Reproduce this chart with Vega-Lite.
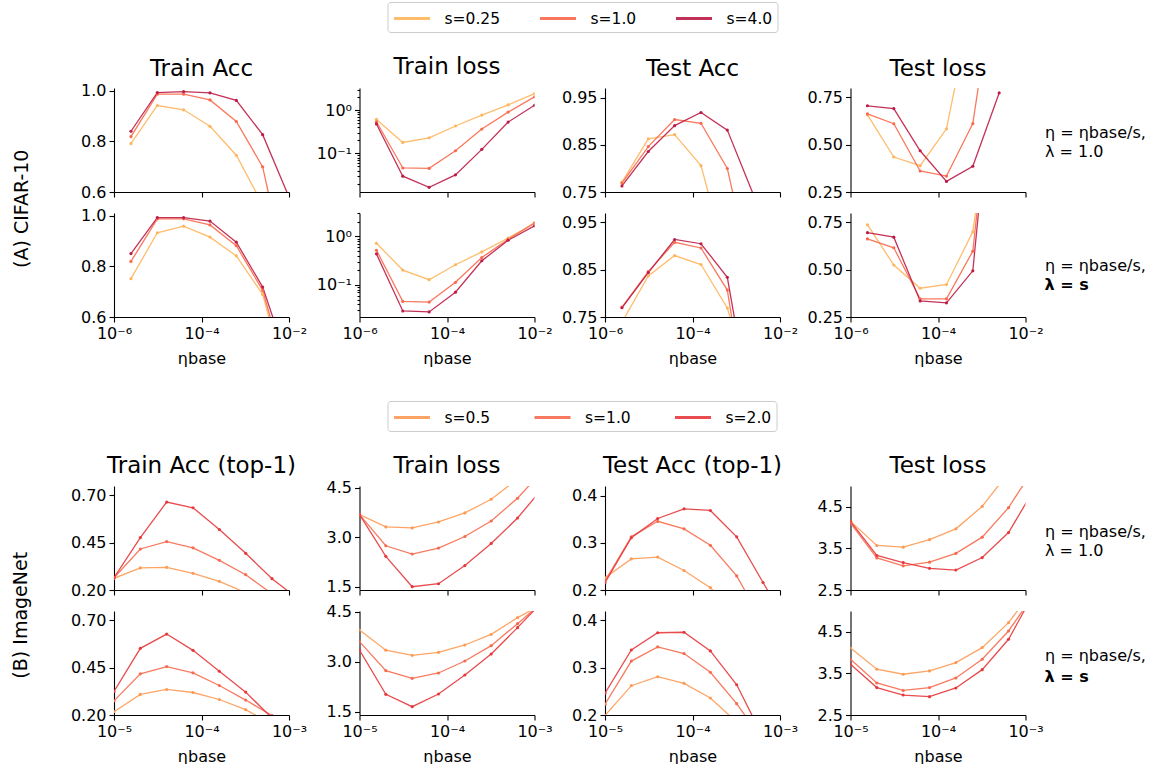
{
"$schema":"https://vega.github.io/schema/vega-lite/v6.json",
"padding":{"left":12,"top":1,"right":0,"bottom":0},
"config":{"font":"DejaVu Sans","view":{"stroke":null},
"axis":{"grid":false,"domainColor":"#000","tickColor":"#000","labelColor":"#000","labelFontSize":16,"labelFont":"DejaVu Sans","tickSize":5,"labelPadding":3,"domainWidth":1.1,"tickWidth":1.1,"titleFontSize":16,"titleFontWeight":"normal","titleColor":"#000","titleFont":"DejaVu Sans","labelFlush":false,"titlePadding":9},
"title":{"fontSize":23,"fontWeight":"normal","font":"DejaVu Sans","color":"#000","offset":7,"baseline":"alphabetic","frame":"group"}},
"datasets":{"d":[
{"p":"a1ta","s":"s=0.25","e":2.441e-6,"v":0.791},{"p":"a1ta","s":"s=0.25","e":9.766e-6,"v":0.941},{"p":"a1ta","s":"s=0.25","e":3.906e-5,"v":0.924},{"p":"a1ta","s":"s=0.25","e":1.5625e-4,"v":0.859},{"p":"a1ta","s":"s=0.25","e":6.25e-4,"v":0.745},{"p":"a1ta","s":"s=0.25","e":0.0025,"v":0.55},{"p":"a1ta","s":"s=0.25","e":0.01,"v":0.1},
{"p":"a1ta","s":"s=1.0","e":2.441e-6,"v":0.8185},{"p":"a1ta","s":"s=1.0","e":9.766e-6,"v":0.9856},{"p":"a1ta","s":"s=1.0","e":3.906e-5,"v":0.9856},{"p":"a1ta","s":"s=1.0","e":1.5625e-4,"v":0.963},{"p":"a1ta","s":"s=1.0","e":6.25e-4,"v":0.878},{"p":"a1ta","s":"s=1.0","e":0.0025,"v":0.699},{"p":"a1ta","s":"s=1.0","e":0.01,"v":0.23},
{"p":"a1ta","s":"s=4.0","e":2.441e-6,"v":0.8395},{"p":"a1ta","s":"s=4.0","e":9.766e-6,"v":0.992},{"p":"a1ta","s":"s=4.0","e":3.906e-5,"v":0.996},{"p":"a1ta","s":"s=4.0","e":1.5625e-4,"v":0.991},{"p":"a1ta","s":"s=4.0","e":6.25e-4,"v":0.961},{"p":"a1ta","s":"s=4.0","e":0.0025,"v":0.826},{"p":"a1ta","s":"s=4.0","e":0.01,"v":0.58},

{"p":"a1tl","s":"s=0.25","e":2.441e-6,"v":0.61},{"p":"a1tl","s":"s=0.25","e":9.766e-6,"v":0.179},{"p":"a1tl","s":"s=0.25","e":3.906e-5,"v":0.229},{"p":"a1tl","s":"s=0.25","e":1.5625e-4,"v":0.43},{"p":"a1tl","s":"s=0.25","e":6.25e-4,"v":0.77},{"p":"a1tl","s":"s=0.25","e":0.0025,"v":1.32},{"p":"a1tl","s":"s=0.25","e":0.01,"v":2.41},
{"p":"a1tl","s":"s=1.0","e":2.441e-6,"v":0.54},{"p":"a1tl","s":"s=1.0","e":9.766e-6,"v":0.046},{"p":"a1tl","s":"s=1.0","e":3.906e-5,"v":0.045},{"p":"a1tl","s":"s=1.0","e":1.5625e-4,"v":0.115},{"p":"a1tl","s":"s=1.0","e":6.25e-4,"v":0.367},{"p":"a1tl","s":"s=1.0","e":0.0025,"v":0.9},{"p":"a1tl","s":"s=1.0","e":0.01,"v":2.02},
{"p":"a1tl","s":"s=4.0","e":2.441e-6,"v":0.48},{"p":"a1tl","s":"s=4.0","e":9.766e-6,"v":0.0297},{"p":"a1tl","s":"s=4.0","e":3.906e-5,"v":0.0164},{"p":"a1tl","s":"s=4.0","e":1.5625e-4,"v":0.0319},{"p":"a1tl","s":"s=4.0","e":6.25e-4,"v":0.124},{"p":"a1tl","s":"s=4.0","e":0.0025,"v":0.53},{"p":"a1tl","s":"s=4.0","e":0.01,"v":1.30},

{"p":"a1va","s":"s=0.25","e":2.441e-6,"v":0.771},{"p":"a1va","s":"s=0.25","e":9.766e-6,"v":0.863},{"p":"a1va","s":"s=0.25","e":3.906e-5,"v":0.872},{"p":"a1va","s":"s=0.25","e":1.5625e-4,"v":0.806},{"p":"a1va","s":"s=0.25","e":6.25e-4,"v":0.6},
{"p":"a1va","s":"s=1.0","e":2.441e-6,"v":0.769},{"p":"a1va","s":"s=1.0","e":9.766e-6,"v":0.8465},{"p":"a1va","s":"s=1.0","e":3.906e-5,"v":0.904},{"p":"a1va","s":"s=1.0","e":1.5625e-4,"v":0.896},{"p":"a1va","s":"s=1.0","e":6.25e-4,"v":0.80},{"p":"a1va","s":"s=1.0","e":0.0025,"v":0.55},
{"p":"a1va","s":"s=4.0","e":2.441e-6,"v":0.763},{"p":"a1va","s":"s=4.0","e":9.766e-6,"v":0.836},{"p":"a1va","s":"s=4.0","e":3.906e-5,"v":0.891},{"p":"a1va","s":"s=4.0","e":1.5625e-4,"v":0.919},{"p":"a1va","s":"s=4.0","e":6.25e-4,"v":0.8815},{"p":"a1va","s":"s=4.0","e":0.0025,"v":0.743},

{"p":"a1vl","s":"s=0.25","e":2.441e-6,"v":0.658},{"p":"a1vl","s":"s=0.25","e":9.766e-6,"v":0.435},{"p":"a1vl","s":"s=0.25","e":3.906e-5,"v":0.389},{"p":"a1vl","s":"s=0.25","e":1.5625e-4,"v":0.584},{"p":"a1vl","s":"s=0.25","e":6.25e-4,"v":1.27},
{"p":"a1vl","s":"s=1.0","e":2.441e-6,"v":0.663},{"p":"a1vl","s":"s=1.0","e":9.766e-6,"v":0.611},{"p":"a1vl","s":"s=1.0","e":3.906e-5,"v":0.361},{"p":"a1vl","s":"s=1.0","e":1.5625e-4,"v":0.334},{"p":"a1vl","s":"s=1.0","e":6.25e-4,"v":0.612},{"p":"a1vl","s":"s=1.0","e":0.0025,"v":1.54},
{"p":"a1vl","s":"s=4.0","e":2.441e-6,"v":0.706},{"p":"a1vl","s":"s=4.0","e":9.766e-6,"v":0.691},{"p":"a1vl","s":"s=4.0","e":3.906e-5,"v":0.468},{"p":"a1vl","s":"s=4.0","e":1.5625e-4,"v":0.306},{"p":"a1vl","s":"s=4.0","e":6.25e-4,"v":0.386},{"p":"a1vl","s":"s=4.0","e":0.0025,"v":0.774},

{"p":"a2ta","s":"s=0.25","e":2.441e-6,"v":0.751},{"p":"a2ta","s":"s=0.25","e":9.766e-6,"v":0.932},{"p":"a2ta","s":"s=0.25","e":3.906e-5,"v":0.958},{"p":"a2ta","s":"s=0.25","e":1.5625e-4,"v":0.915},{"p":"a2ta","s":"s=0.25","e":6.25e-4,"v":0.841},{"p":"a2ta","s":"s=0.25","e":0.0025,"v":0.689},{"p":"a2ta","s":"s=0.25","e":0.01,"v":0.313},
{"p":"a2ta","s":"s=1.0","e":2.441e-6,"v":0.819},{"p":"a2ta","s":"s=1.0","e":9.766e-6,"v":0.987},{"p":"a2ta","s":"s=1.0","e":3.906e-5,"v":0.987},{"p":"a2ta","s":"s=1.0","e":1.5625e-4,"v":0.963},{"p":"a2ta","s":"s=1.0","e":6.25e-4,"v":0.881},{"p":"a2ta","s":"s=1.0","e":0.0025,"v":0.705},{"p":"a2ta","s":"s=1.0","e":0.01,"v":0.34},
{"p":"a2ta","s":"s=4.0","e":2.441e-6,"v":0.850},{"p":"a2ta","s":"s=4.0","e":9.766e-6,"v":0.992},{"p":"a2ta","s":"s=4.0","e":3.906e-5,"v":0.992},{"p":"a2ta","s":"s=4.0","e":1.5625e-4,"v":0.978},{"p":"a2ta","s":"s=4.0","e":6.25e-4,"v":0.895},{"p":"a2ta","s":"s=4.0","e":0.0025,"v":0.718},{"p":"a2ta","s":"s=4.0","e":0.01,"v":0.41},

{"p":"a2tl","s":"s=0.25","e":2.441e-6,"v":0.72},{"p":"a2tl","s":"s=0.25","e":9.766e-6,"v":0.202},{"p":"a2tl","s":"s=0.25","e":3.906e-5,"v":0.128},{"p":"a2tl","s":"s=0.25","e":1.5625e-4,"v":0.26},{"p":"a2tl","s":"s=0.25","e":6.25e-4,"v":0.479},{"p":"a2tl","s":"s=0.25","e":0.0025,"v":0.925},{"p":"a2tl","s":"s=0.25","e":0.01,"v":1.84},
{"p":"a2tl","s":"s=1.0","e":2.441e-6,"v":0.518},{"p":"a2tl","s":"s=1.0","e":9.766e-6,"v":0.0457},{"p":"a2tl","s":"s=1.0","e":3.906e-5,"v":0.0443},{"p":"a2tl","s":"s=1.0","e":1.5625e-4,"v":0.113},{"p":"a2tl","s":"s=1.0","e":6.25e-4,"v":0.367},{"p":"a2tl","s":"s=1.0","e":0.0025,"v":0.868},{"p":"a2tl","s":"s=1.0","e":0.01,"v":1.9},
{"p":"a2tl","s":"s=4.0","e":2.441e-6,"v":0.436},{"p":"a2tl","s":"s=4.0","e":9.766e-6,"v":0.029},{"p":"a2tl","s":"s=4.0","e":3.906e-5,"v":0.0277},{"p":"a2tl","s":"s=4.0","e":1.5625e-4,"v":0.0708},{"p":"a2tl","s":"s=4.0","e":6.25e-4,"v":0.314},{"p":"a2tl","s":"s=4.0","e":0.0025,"v":0.83},{"p":"a2tl","s":"s=4.0","e":0.01,"v":1.65},

{"p":"a2va","s":"s=0.25","e":2.441e-6,"v":0.739},{"p":"a2va","s":"s=0.25","e":9.766e-6,"v":0.837},{"p":"a2va","s":"s=0.25","e":3.906e-5,"v":0.880},{"p":"a2va","s":"s=0.25","e":1.5625e-4,"v":0.861},{"p":"a2va","s":"s=0.25","e":6.25e-4,"v":0.769},{"p":"a2va","s":"s=0.25","e":0.0025,"v":0.583},
{"p":"a2va","s":"s=1.0","e":2.441e-6,"v":0.771},{"p":"a2va","s":"s=1.0","e":9.766e-6,"v":0.846},{"p":"a2va","s":"s=1.0","e":3.906e-5,"v":0.908},{"p":"a2va","s":"s=1.0","e":1.5625e-4,"v":0.896},{"p":"a2va","s":"s=1.0","e":6.25e-4,"v":0.807},{"p":"a2va","s":"s=1.0","e":0.0025,"v":0.46},
{"p":"a2va","s":"s=4.0","e":2.441e-6,"v":0.7695},{"p":"a2va","s":"s=4.0","e":9.766e-6,"v":0.844},{"p":"a2va","s":"s=4.0","e":3.906e-5,"v":0.914},{"p":"a2va","s":"s=4.0","e":1.5625e-4,"v":0.905},{"p":"a2va","s":"s=4.0","e":6.25e-4,"v":0.834},{"p":"a2va","s":"s=4.0","e":0.0025,"v":0.517},

{"p":"a2vl","s":"s=0.25","e":2.441e-6,"v":0.738},{"p":"a2vl","s":"s=0.25","e":9.766e-6,"v":0.525},{"p":"a2vl","s":"s=0.25","e":3.906e-5,"v":0.402},{"p":"a2vl","s":"s=0.25","e":1.5625e-4,"v":0.422},{"p":"a2vl","s":"s=0.25","e":6.25e-4,"v":0.70},{"p":"a2vl","s":"s=0.25","e":0.0025,"v":1.69},
{"p":"a2vl","s":"s=1.0","e":2.441e-6,"v":0.663},{"p":"a2vl","s":"s=1.0","e":9.766e-6,"v":0.616},{"p":"a2vl","s":"s=1.0","e":3.906e-5,"v":0.346},{"p":"a2vl","s":"s=1.0","e":1.5625e-4,"v":0.346},{"p":"a2vl","s":"s=1.0","e":6.25e-4,"v":0.598},{"p":"a2vl","s":"s=1.0","e":0.0025,"v":1.9},
{"p":"a2vl","s":"s=4.0","e":2.441e-6,"v":0.696},{"p":"a2vl","s":"s=4.0","e":9.766e-6,"v":0.672},{"p":"a2vl","s":"s=4.0","e":3.906e-5,"v":0.335},{"p":"a2vl","s":"s=4.0","e":1.5625e-4,"v":0.325},{"p":"a2vl","s":"s=4.0","e":6.25e-4,"v":0.494},{"p":"a2vl","s":"s=4.0","e":0.0025,"v":1.93},

{"p":"b1ta","s":"s=0.5","e":1e-5,"v":0.262},{"p":"b1ta","s":"s=0.5","e":2e-5,"v":0.317},{"p":"b1ta","s":"s=0.5","e":4e-5,"v":0.32},{"p":"b1ta","s":"s=0.5","e":8e-5,"v":0.288},{"p":"b1ta","s":"s=0.5","e":1.6e-4,"v":0.246},{"p":"b1ta","s":"s=0.5","e":3.2e-4,"v":0.186},
{"p":"b1ta","s":"s=1.0","e":1e-5,"v":0.265},{"p":"b1ta","s":"s=1.0","e":2e-5,"v":0.417},{"p":"b1ta","s":"s=1.0","e":4e-5,"v":0.456},{"p":"b1ta","s":"s=1.0","e":8e-5,"v":0.423},{"p":"b1ta","s":"s=1.0","e":1.6e-4,"v":0.357},{"p":"b1ta","s":"s=1.0","e":3.2e-4,"v":0.281},{"p":"b1ta","s":"s=1.0","e":6.4e-4,"v":0.18},
{"p":"b1ta","s":"s=2.0","e":1e-5,"v":0.265},{"p":"b1ta","s":"s=2.0","e":2e-5,"v":0.477},{"p":"b1ta","s":"s=2.0","e":4e-5,"v":0.665},{"p":"b1ta","s":"s=2.0","e":8e-5,"v":0.635},{"p":"b1ta","s":"s=2.0","e":1.6e-4,"v":0.52},{"p":"b1ta","s":"s=2.0","e":3.2e-4,"v":0.394},{"p":"b1ta","s":"s=2.0","e":6.4e-4,"v":0.26},{"p":"b1ta","s":"s=2.0","e":1.28e-3,"v":0.152},

{"p":"b1tl","s":"s=0.5","e":1e-5,"v":3.685},{"p":"b1tl","s":"s=0.5","e":2e-5,"v":3.31},{"p":"b1tl","s":"s=0.5","e":4e-5,"v":3.28},{"p":"b1tl","s":"s=0.5","e":8e-5,"v":3.46},{"p":"b1tl","s":"s=0.5","e":1.6e-4,"v":3.735},{"p":"b1tl","s":"s=0.5","e":3.2e-4,"v":4.15},{"p":"b1tl","s":"s=0.5","e":6.4e-4,"v":4.76},
{"p":"b1tl","s":"s=1.0","e":1e-5,"v":3.685},{"p":"b1tl","s":"s=1.0","e":2e-5,"v":2.74},{"p":"b1tl","s":"s=1.0","e":4e-5,"v":2.49},{"p":"b1tl","s":"s=1.0","e":8e-5,"v":2.67},{"p":"b1tl","s":"s=1.0","e":1.6e-4,"v":3.02},{"p":"b1tl","s":"s=1.0","e":3.2e-4,"v":3.49},{"p":"b1tl","s":"s=1.0","e":6.4e-4,"v":4.18},{"p":"b1tl","s":"s=1.0","e":1.28e-3,"v":5.05},
{"p":"b1tl","s":"s=2.0","e":1e-5,"v":3.685},{"p":"b1tl","s":"s=2.0","e":2e-5,"v":2.42},{"p":"b1tl","s":"s=2.0","e":4e-5,"v":1.50},{"p":"b1tl","s":"s=2.0","e":8e-5,"v":1.59},{"p":"b1tl","s":"s=2.0","e":1.6e-4,"v":2.14},{"p":"b1tl","s":"s=2.0","e":3.2e-4,"v":2.81},{"p":"b1tl","s":"s=2.0","e":6.4e-4,"v":3.58},{"p":"b1tl","s":"s=2.0","e":1.28e-3,"v":4.53},

{"p":"b1va","s":"s=0.5","e":1e-5,"v":0.226},{"p":"b1va","s":"s=0.5","e":2e-5,"v":0.266},{"p":"b1va","s":"s=0.5","e":4e-5,"v":0.270},{"p":"b1va","s":"s=0.5","e":8e-5,"v":0.2415},{"p":"b1va","s":"s=0.5","e":1.6e-4,"v":0.205},{"p":"b1va","s":"s=0.5","e":3.2e-4,"v":0.15},
{"p":"b1va","s":"s=1.0","e":1e-5,"v":0.219},{"p":"b1va","s":"s=1.0","e":2e-5,"v":0.313},{"p":"b1va","s":"s=1.0","e":4e-5,"v":0.346},{"p":"b1va","s":"s=1.0","e":8e-5,"v":0.330},{"p":"b1va","s":"s=1.0","e":1.6e-4,"v":0.295},{"p":"b1va","s":"s=1.0","e":3.2e-4,"v":0.230},{"p":"b1va","s":"s=1.0","e":6.4e-4,"v":0.13},
{"p":"b1va","s":"s=2.0","e":1e-5,"v":0.2155},{"p":"b1va","s":"s=2.0","e":2e-5,"v":0.311},{"p":"b1va","s":"s=2.0","e":4e-5,"v":0.352},{"p":"b1va","s":"s=2.0","e":8e-5,"v":0.3725},{"p":"b1va","s":"s=2.0","e":1.6e-4,"v":0.369},{"p":"b1va","s":"s=2.0","e":3.2e-4,"v":0.313},{"p":"b1va","s":"s=2.0","e":6.4e-4,"v":0.216},{"p":"b1va","s":"s=2.0","e":1.28e-3,"v":0.12},

{"p":"b1vl","s":"s=0.5","e":1e-5,"v":4.15},{"p":"b1vl","s":"s=0.5","e":2e-5,"v":3.57},{"p":"b1vl","s":"s=0.5","e":4e-5,"v":3.53},{"p":"b1vl","s":"s=0.5","e":8e-5,"v":3.71},{"p":"b1vl","s":"s=0.5","e":1.6e-4,"v":3.97},{"p":"b1vl","s":"s=0.5","e":3.2e-4,"v":4.51},{"p":"b1vl","s":"s=0.5","e":6.4e-4,"v":5.32},
{"p":"b1vl","s":"s=1.0","e":1e-5,"v":4.11},{"p":"b1vl","s":"s=1.0","e":2e-5,"v":3.27},{"p":"b1vl","s":"s=1.0","e":4e-5,"v":3.08},{"p":"b1vl","s":"s=1.0","e":8e-5,"v":3.17},{"p":"b1vl","s":"s=1.0","e":1.6e-4,"v":3.38},{"p":"b1vl","s":"s=1.0","e":3.2e-4,"v":3.77},{"p":"b1vl","s":"s=1.0","e":6.4e-4,"v":4.48},{"p":"b1vl","s":"s=1.0","e":1.28e-3,"v":5.46},
{"p":"b1vl","s":"s=2.0","e":1e-5,"v":4.15},{"p":"b1vl","s":"s=2.0","e":2e-5,"v":3.33},{"p":"b1vl","s":"s=2.0","e":4e-5,"v":3.16},{"p":"b1vl","s":"s=2.0","e":8e-5,"v":3.02},{"p":"b1vl","s":"s=2.0","e":1.6e-4,"v":2.98},{"p":"b1vl","s":"s=2.0","e":3.2e-4,"v":3.28},{"p":"b1vl","s":"s=2.0","e":6.4e-4,"v":3.88},{"p":"b1vl","s":"s=2.0","e":1.28e-3,"v":4.95},

{"p":"b2ta","s":"s=0.5","e":1e-5,"v":0.2175},{"p":"b2ta","s":"s=0.5","e":2e-5,"v":0.309},{"p":"b2ta","s":"s=0.5","e":4e-5,"v":0.335},{"p":"b2ta","s":"s=0.5","e":8e-5,"v":0.319},{"p":"b2ta","s":"s=0.5","e":1.6e-4,"v":0.282},{"p":"b2ta","s":"s=0.5","e":3.2e-4,"v":0.228},{"p":"b2ta","s":"s=0.5","e":6.4e-4,"v":0.151},
{"p":"b2ta","s":"s=1.0","e":1e-5,"v":0.275},{"p":"b2ta","s":"s=1.0","e":2e-5,"v":0.4175},{"p":"b2ta","s":"s=1.0","e":4e-5,"v":0.456},{"p":"b2ta","s":"s=1.0","e":8e-5,"v":0.423},{"p":"b2ta","s":"s=1.0","e":1.6e-4,"v":0.356},{"p":"b2ta","s":"s=1.0","e":3.2e-4,"v":0.279},{"p":"b2ta","s":"s=1.0","e":6.4e-4,"v":0.197},
{"p":"b2ta","s":"s=2.0","e":1e-5,"v":0.3245},{"p":"b2ta","s":"s=2.0","e":2e-5,"v":0.5525},{"p":"b2ta","s":"s=2.0","e":4e-5,"v":0.628},{"p":"b2ta","s":"s=2.0","e":8e-5,"v":0.542},{"p":"b2ta","s":"s=2.0","e":1.6e-4,"v":0.4315},{"p":"b2ta","s":"s=2.0","e":3.2e-4,"v":0.321},{"p":"b2ta","s":"s=2.0","e":6.4e-4,"v":0.184},

{"p":"b2tl","s":"s=0.5","e":1e-5,"v":3.95},{"p":"b2tl","s":"s=0.5","e":2e-5,"v":3.345},{"p":"b2tl","s":"s=0.5","e":4e-5,"v":3.19},{"p":"b2tl","s":"s=0.5","e":8e-5,"v":3.28},{"p":"b2tl","s":"s=0.5","e":1.6e-4,"v":3.50},{"p":"b2tl","s":"s=0.5","e":3.2e-4,"v":3.82},{"p":"b2tl","s":"s=0.5","e":6.4e-4,"v":4.32},{"p":"b2tl","s":"s=0.5","e":1.28e-3,"v":4.75},
{"p":"b2tl","s":"s=1.0","e":1e-5,"v":3.60},{"p":"b2tl","s":"s=1.0","e":2e-5,"v":2.73},{"p":"b2tl","s":"s=1.0","e":4e-5,"v":2.50},{"p":"b2tl","s":"s=1.0","e":8e-5,"v":2.66},{"p":"b2tl","s":"s=1.0","e":1.6e-4,"v":3.02},{"p":"b2tl","s":"s=1.0","e":3.2e-4,"v":3.48},{"p":"b2tl","s":"s=1.0","e":6.4e-4,"v":4.14},{"p":"b2tl","s":"s=1.0","e":1.28e-3,"v":4.82},
{"p":"b2tl","s":"s=2.0","e":1e-5,"v":3.345},{"p":"b2tl","s":"s=2.0","e":2e-5,"v":2.02},{"p":"b2tl","s":"s=2.0","e":4e-5,"v":1.65},{"p":"b2tl","s":"s=2.0","e":8e-5,"v":2.03},{"p":"b2tl","s":"s=2.0","e":1.6e-4,"v":2.60},{"p":"b2tl","s":"s=2.0","e":3.2e-4,"v":3.23},{"p":"b2tl","s":"s=2.0","e":6.4e-4,"v":4.02},{"p":"b2tl","s":"s=2.0","e":1.28e-3,"v":4.85},

{"p":"b2va","s":"s=0.5","e":1e-5,"v":0.199},{"p":"b2va","s":"s=0.5","e":2e-5,"v":0.262},{"p":"b2va","s":"s=0.5","e":4e-5,"v":0.281},{"p":"b2va","s":"s=0.5","e":8e-5,"v":0.267},{"p":"b2va","s":"s=0.5","e":1.6e-4,"v":0.236},{"p":"b2va","s":"s=0.5","e":3.2e-4,"v":0.185},
{"p":"b2va","s":"s=1.0","e":1e-5,"v":0.223},{"p":"b2va","s":"s=1.0","e":2e-5,"v":0.314},{"p":"b2va","s":"s=1.0","e":4e-5,"v":0.344},{"p":"b2va","s":"s=1.0","e":8e-5,"v":0.330},{"p":"b2va","s":"s=1.0","e":1.6e-4,"v":0.2905},{"p":"b2va","s":"s=1.0","e":3.2e-4,"v":0.224},{"p":"b2va","s":"s=1.0","e":6.4e-4,"v":0.145},
{"p":"b2va","s":"s=2.0","e":1e-5,"v":0.246},{"p":"b2va","s":"s=2.0","e":2e-5,"v":0.3375},{"p":"b2va","s":"s=2.0","e":4e-5,"v":0.374},{"p":"b2va","s":"s=2.0","e":8e-5,"v":0.375},{"p":"b2va","s":"s=2.0","e":1.6e-4,"v":0.3355},{"p":"b2va","s":"s=2.0","e":3.2e-4,"v":0.264},{"p":"b2va","s":"s=2.0","e":6.4e-4,"v":0.153},

{"p":"b2vl","s":"s=0.5","e":1e-5,"v":4.11},{"p":"b2vl","s":"s=0.5","e":2e-5,"v":3.60},{"p":"b2vl","s":"s=0.5","e":4e-5,"v":3.48},{"p":"b2vl","s":"s=0.5","e":8e-5,"v":3.56},{"p":"b2vl","s":"s=0.5","e":1.6e-4,"v":3.76},{"p":"b2vl","s":"s=0.5","e":3.2e-4,"v":4.12},{"p":"b2vl","s":"s=0.5","e":6.4e-4,"v":4.72},{"p":"b2vl","s":"s=0.5","e":1.28e-3,"v":5.56},
{"p":"b2vl","s":"s=1.0","e":1e-5,"v":3.84},{"p":"b2vl","s":"s=1.0","e":2e-5,"v":3.27},{"p":"b2vl","s":"s=1.0","e":4e-5,"v":3.09},{"p":"b2vl","s":"s=1.0","e":8e-5,"v":3.16},{"p":"b2vl","s":"s=1.0","e":1.6e-4,"v":3.39},{"p":"b2vl","s":"s=1.0","e":3.2e-4,"v":3.84},{"p":"b2vl","s":"s=1.0","e":6.4e-4,"v":4.52},{"p":"b2vl","s":"s=1.0","e":1.28e-3,"v":5.43},
{"p":"b2vl","s":"s=2.0","e":1e-5,"v":3.72},{"p":"b2vl","s":"s=2.0","e":2e-5,"v":3.16},{"p":"b2vl","s":"s=2.0","e":4e-5,"v":2.98},{"p":"b2vl","s":"s=2.0","e":8e-5,"v":2.94},{"p":"b2vl","s":"s=2.0","e":1.6e-4,"v":3.15},{"p":"b2vl","s":"s=2.0","e":3.2e-4,"v":3.59},{"p":"b2vl","s":"s=2.0","e":6.4e-4,"v":4.32},{"p":"b2vl","s":"s=2.0","e":1.28e-3,"v":5.47}
]},
"data":{"name":"d"},
"spacing":34,
"resolve":{"scale":{"color":"independent"},"legend":{"color":"independent"}},
"vconcat":[
{"title":{"text":"(A) CIFAR-10","orient":"left","anchor":"middle","fontSize":19,"fontWeight":"normal","offset":30,"baseline":"bottom","frame":"bounds","dx":-25},
 "spacing":5,
 "vconcat":[
 {"spacing":70.5,"bounds":"flush",
  "hconcat":[
  {"width":175,"height":104,"title":{"text":"Train Acc","offset":1.5},"transform":[{"filter":"datum.p=='a1ta'"}],
   "mark":{"type":"line","clip":true,"strokeWidth":1.3,"opacity":0.9,"point":{"filled":true,"size":10,"clip":true}},
   "encoding":{"x":{"field":"e","type":"quantitative","scale":{"type":"log","domain":[1e-6,1e-2],"nice":false},"axis":{"values":[1e-6,1e-4,1e-2],"labels":false,"title":null}},
    "y":{"field":"v","type":"quantitative","scale":{"domain":[0.6,1.01],"nice":false,"zero":false},"axis":{"values":[0.6,0.8,1.0],"format":".1f","title":null}},
    "color":{"field":"s","type":"nominal","scale":{"domain":["s=0.25","s=1.0","s=4.0"],"range":["#feb55c","#f96a4b","#bc1c46"]},"legend":{"title":null,"orient":"none","legendX":273.5,"legendY":-86,"direction":"horizontal","columns":3,"symbolType":"M-1,0H2.6","symbolStrokeWidth":3,"symbolSize":400,"labelFontSize":15.5,"labelFont":"DejaVu Sans","labelColor":"#000","strokeColor":"#cccccc","padding":5,"cornerRadius":3,"columnPadding":33,"labelOffset":29}}}},
  {"width":175,"height":104,"title":{"text":"Train loss","offset":3},"transform":[{"filter":"datum.p=='a1tl'"}],
   "mark":{"type":"line","clip":true,"strokeWidth":1.3,"opacity":0.9,"point":{"filled":true,"size":10,"clip":true}},
   "encoding":{"x":{"field":"e","type":"quantitative","scale":{"type":"log","domain":[1e-6,1e-2],"nice":false},"axis":{"values":[1e-6,1e-4,1e-2],"labels":false,"title":null}},
    "y":{"field":"v","type":"quantitative","scale":{"type":"log","domain":[0.0128,3.25],"nice":false},"axis":{"values":[0.02,0.03,0.04,0.05,0.06,0.07,0.08,0.09,0.1,0.2,0.3,0.4,0.5,0.6,0.7,0.8,0.9,1,2,3],"labelExpr":"datum.value==1?'10⁰':datum.value==0.1?'10⁻¹':''","tickSize":{"condition":{"test":"datum.value==1||datum.value==0.1","value":5},"value":2.5},"labelOverlap":false,"title":null}},
    "color":{"field":"s","type":"nominal","scale":{"domain":["s=0.25","s=1.0","s=4.0"],"range":["#feb55c","#f96a4b","#bc1c46"]}}}},
  {"width":175,"height":104,"title":{"text":"Test Acc","offset":7},"transform":[{"filter":"datum.p=='a1va'"}],
   "mark":{"type":"line","clip":true,"strokeWidth":1.3,"opacity":0.9,"point":{"filled":true,"size":10,"clip":true}},
   "encoding":{"x":{"field":"e","type":"quantitative","scale":{"type":"log","domain":[1e-6,1e-2],"nice":false},"axis":{"values":[1e-6,1e-4,1e-2],"labels":false,"title":null}},
    "y":{"field":"v","type":"quantitative","scale":{"domain":[0.75,0.971],"nice":false,"zero":false},"axis":{"values":[0.75,0.85,0.95],"format":".2f","title":null}},
    "color":{"field":"s","type":"nominal","scale":{"domain":["s=0.25","s=1.0","s=4.0"],"range":["#feb55c","#f96a4b","#bc1c46"]}}}},
  {"width":175,"height":104,"title":{"text":"Test loss","offset":7},"transform":[{"filter":"datum.p=='a1vl'"}],
   "mark":{"type":"line","clip":true,"strokeWidth":1.3,"opacity":0.9,"point":{"filled":true,"size":10,"clip":true}},
   "encoding":{"x":{"field":"e","type":"quantitative","scale":{"type":"log","domain":[1e-6,1e-2],"nice":false},"axis":{"values":[1e-6,1e-4,1e-2],"labels":false,"title":null}},
    "y":{"field":"v","type":"quantitative","scale":{"domain":[0.25,0.80],"nice":false,"zero":false},"axis":{"values":[0.25,0.5,0.75],"format":".2f","title":["η = ηbase/s,","λ = 1.0"],"titleX":194,"titleY":44.5,"titleAngle":0,"titleAlign":"left","titleBaseline":"middle","titleLineHeight":19}},
    "color":{"field":"s","type":"nominal","scale":{"domain":["s=0.25","s=1.0","s=4.0"],"range":["#feb55c","#f96a4b","#bc1c46"]}}}}
  ]},
 {"spacing":70.5,"bounds":"flush",
  "hconcat":[
  {"width":175,"height":104,"transform":[{"filter":"datum.p=='a2ta'"}],
   "mark":{"type":"line","clip":true,"strokeWidth":1.3,"opacity":0.9,"point":{"filled":true,"size":10,"clip":true}},
   "encoding":{"x":{"field":"e","type":"quantitative","scale":{"type":"log","domain":[1e-6,1e-2],"nice":false},"axis":{"values":[1e-6,1e-4,1e-2],"labelExpr":"datum.value<1e-5?'10⁻⁶':datum.value<1e-3?'10⁻⁴':'10⁻²'","title":"ηbase"}},
    "y":{"field":"v","type":"quantitative","scale":{"domain":[0.6,1.01],"nice":false,"zero":false},"axis":{"values":[0.6,0.8,1.0],"format":".1f","title":null}},
    "color":{"field":"s","type":"nominal","scale":{"domain":["s=0.25","s=1.0","s=4.0"],"range":["#feb55c","#f96a4b","#bc1c46"]}}}},
  {"width":175,"height":104,"transform":[{"filter":"datum.p=='a2tl'"}],
   "mark":{"type":"line","clip":true,"strokeWidth":1.3,"opacity":0.9,"point":{"filled":true,"size":10,"clip":true}},
   "encoding":{"x":{"field":"e","type":"quantitative","scale":{"type":"log","domain":[1e-6,1e-2],"nice":false},"axis":{"values":[1e-6,1e-4,1e-2],"labelExpr":"datum.value<1e-5?'10⁻⁶':datum.value<1e-3?'10⁻⁴':'10⁻²'","title":"ηbase"}},
    "y":{"field":"v","type":"quantitative","scale":{"type":"log","domain":[0.0218,3.03],"nice":false},"axis":{"values":[0.03,0.04,0.05,0.06,0.07,0.08,0.09,0.1,0.2,0.3,0.4,0.5,0.6,0.7,0.8,0.9,1,2,3],"labelExpr":"datum.value==1?'10⁰':datum.value==0.1?'10⁻¹':''","tickSize":{"condition":{"test":"datum.value==1||datum.value==0.1","value":5},"value":2.5},"labelOverlap":false,"title":null}},
    "color":{"field":"s","type":"nominal","scale":{"domain":["s=0.25","s=1.0","s=4.0"],"range":["#feb55c","#f96a4b","#bc1c46"]}}}},
  {"width":175,"height":104,"transform":[{"filter":"datum.p=='a2va'"}],
   "mark":{"type":"line","clip":true,"strokeWidth":1.3,"opacity":0.9,"point":{"filled":true,"size":10,"clip":true}},
   "encoding":{"x":{"field":"e","type":"quantitative","scale":{"type":"log","domain":[1e-6,1e-2],"nice":false},"axis":{"values":[1e-6,1e-4,1e-2],"labelExpr":"datum.value<1e-5?'10⁻⁶':datum.value<1e-3?'10⁻⁴':'10⁻²'","title":"ηbase"}},
    "y":{"field":"v","type":"quantitative","scale":{"domain":[0.75,0.97],"nice":false,"zero":false},"axis":{"values":[0.75,0.85,0.95],"format":".2f","title":null}},
    "color":{"field":"s","type":"nominal","scale":{"domain":["s=0.25","s=1.0","s=4.0"],"range":["#feb55c","#f96a4b","#bc1c46"]}}}},
  {"width":175,"height":104,"title":{"text":"λ = s","anchor":"end","align":"left","frame":"group","fontSize":16,"fontWeight":"bold","offset":0,"dx":19,"dy":80},"transform":[{"filter":"datum.p=='a2vl'"}],
   "mark":{"type":"line","clip":true,"strokeWidth":1.3,"opacity":0.9,"point":{"filled":true,"size":10,"clip":true}},
   "encoding":{"x":{"field":"e","type":"quantitative","scale":{"type":"log","domain":[1e-6,1e-2],"nice":false},"axis":{"values":[1e-6,1e-4,1e-2],"labelExpr":"datum.value<1e-5?'10⁻⁶':datum.value<1e-3?'10⁻⁴':'10⁻²'","title":"ηbase"}},
    "y":{"field":"v","type":"quantitative","scale":{"domain":[0.25,0.80],"nice":false,"zero":false},"axis":{"values":[0.25,0.5,0.75],"format":".2f","title":"η = ηbase/s,","titleX":194,"titleY":52,"titleAngle":0,"titleAlign":"left","titleBaseline":"middle"}},
    "color":{"field":"s","type":"nominal","scale":{"domain":["s=0.25","s=1.0","s=4.0"],"range":["#feb55c","#f96a4b","#bc1c46"]}}}}
  ]}
 ]},
{"title":{"text":"(B) ImageNet","orient":"left","anchor":"middle","fontSize":19,"fontWeight":"normal","offset":20,"baseline":"bottom","frame":"bounds","dx":-33},
 "spacing":5,
 "vconcat":[
 {"spacing":70.5,"bounds":"flush",
  "hconcat":[
  {"width":175,"height":104,"title":{"text":"Train Acc (top-1)","offset":8.3},"transform":[{"filter":"datum.p=='b1ta'"}],
   "mark":{"type":"line","clip":true,"strokeWidth":1.3,"opacity":0.9,"point":{"filled":true,"size":10,"clip":true}},
   "encoding":{"x":{"field":"e","type":"quantitative","scale":{"type":"log","domain":[1e-5,1e-3],"nice":false},"axis":{"values":[1e-5,1e-4,1e-3],"labels":false,"title":null}},
    "y":{"field":"v","type":"quantitative","scale":{"domain":[0.2,0.75],"nice":false,"zero":false},"axis":{"values":[0.2,0.45,0.7],"format":".2f","title":null}},
    "color":{"field":"s","type":"nominal","scale":{"domain":["s=0.5","s=1.0","s=2.0"],"range":["#fd9b55","#f76b4e","#e6393c"]},"legend":{"title":null,"orient":"none","legendX":273.5,"legendY":-85,"direction":"horizontal","columns":3,"symbolType":"M-1,0H2.6","symbolStrokeWidth":3,"symbolSize":400,"labelFontSize":15.5,"labelFont":"DejaVu Sans","labelColor":"#000","strokeColor":"#cccccc","padding":5,"cornerRadius":3,"columnPadding":37.5,"labelOffset":29}}}},
  {"width":175,"height":104,"title":{"text":"Train loss","offset":2},"transform":[{"filter":"datum.p=='b1tl'"}],
   "mark":{"type":"line","clip":true,"strokeWidth":1.3,"opacity":0.9,"point":{"filled":true,"size":10,"clip":true}},
   "encoding":{"x":{"field":"e","type":"quantitative","scale":{"type":"log","domain":[1e-5,1e-3],"nice":false},"axis":{"values":[1e-5,1e-4,1e-3],"labels":false,"title":null}},
    "y":{"field":"v","type":"quantitative","scale":{"domain":[1.4,4.55],"nice":false,"zero":false},"axis":{"values":[1.5,3.0,4.5],"format":".1f","title":null}},
    "color":{"field":"s","type":"nominal","scale":{"domain":["s=0.5","s=1.0","s=2.0"],"range":["#fd9b55","#f76b4e","#e6393c"]}}}},
  {"width":175,"height":104,"title":{"text":"Test Acc (top-1)","offset":8.3},"transform":[{"filter":"datum.p=='b1va'"}],
   "mark":{"type":"line","clip":true,"strokeWidth":1.3,"opacity":0.9,"point":{"filled":true,"size":10,"clip":true}},
   "encoding":{"x":{"field":"e","type":"quantitative","scale":{"type":"log","domain":[1e-5,1e-3],"nice":false},"axis":{"values":[1e-5,1e-4,1e-3],"labels":false,"title":null}},
    "y":{"field":"v","type":"quantitative","scale":{"domain":[0.2,0.421],"nice":false,"zero":false},"axis":{"values":[0.2,0.3,0.4],"format":".1f","title":null}},
    "color":{"field":"s","type":"nominal","scale":{"domain":["s=0.5","s=1.0","s=2.0"],"range":["#fd9b55","#f76b4e","#e6393c"]}}}},
  {"width":175,"height":104,"title":{"text":"Test loss","offset":8.3},"transform":[{"filter":"datum.p=='b1vl'"}],
   "mark":{"type":"line","clip":true,"strokeWidth":1.3,"opacity":0.9,"point":{"filled":true,"size":10,"clip":true}},
   "encoding":{"x":{"field":"e","type":"quantitative","scale":{"type":"log","domain":[1e-5,1e-3],"nice":false},"axis":{"values":[1e-5,1e-4,1e-3],"labels":false,"title":null}},
    "y":{"field":"v","type":"quantitative","scale":{"domain":[2.5,5.0],"nice":false,"zero":false},"axis":{"values":[2.5,3.5,4.5],"format":".1f","title":["η = ηbase/s,","λ = 1.0"],"titleX":194,"titleY":45,"titleAngle":0,"titleAlign":"left","titleBaseline":"middle","titleLineHeight":19}},
    "color":{"field":"s","type":"nominal","scale":{"domain":["s=0.5","s=1.0","s=2.0"],"range":["#fd9b55","#f76b4e","#e6393c"]}}}}
  ]},
 {"spacing":70.5,"bounds":"flush",
  "hconcat":[
  {"width":175,"height":104,"transform":[{"filter":"datum.p=='b2ta'"}],
   "mark":{"type":"line","clip":true,"strokeWidth":1.3,"opacity":0.9,"point":{"filled":true,"size":10,"clip":true}},
   "encoding":{"x":{"field":"e","type":"quantitative","scale":{"type":"log","domain":[1e-5,1e-3],"nice":false},"axis":{"values":[1e-5,1e-4,1e-3],"labelExpr":"datum.value<5e-5?'10⁻⁵':datum.value<5e-4?'10⁻⁴':'10⁻³'","title":"ηbase"}},
    "y":{"field":"v","type":"quantitative","scale":{"domain":[0.2,0.75],"nice":false,"zero":false},"axis":{"values":[0.2,0.45,0.7],"format":".2f","title":null}},
    "color":{"field":"s","type":"nominal","scale":{"domain":["s=0.5","s=1.0","s=2.0"],"range":["#fd9b55","#f76b4e","#e6393c"]}}}},
  {"width":175,"height":104,"transform":[{"filter":"datum.p=='b2tl'"}],
   "mark":{"type":"line","clip":true,"strokeWidth":1.3,"opacity":0.9,"point":{"filled":true,"size":10,"clip":true}},
   "encoding":{"x":{"field":"e","type":"quantitative","scale":{"type":"log","domain":[1e-5,1e-3],"nice":false},"axis":{"values":[1e-5,1e-4,1e-3],"labelExpr":"datum.value<5e-5?'10⁻⁵':datum.value<5e-4?'10⁻⁴':'10⁻³'","title":"ηbase"}},
    "y":{"field":"v","type":"quantitative","scale":{"domain":[1.4,4.52],"nice":false,"zero":false},"axis":{"values":[1.5,3.0,4.5],"format":".1f","title":null}},
    "color":{"field":"s","type":"nominal","scale":{"domain":["s=0.5","s=1.0","s=2.0"],"range":["#fd9b55","#f76b4e","#e6393c"]}}}},
  {"width":175,"height":104,"transform":[{"filter":"datum.p=='b2va'"}],
   "mark":{"type":"line","clip":true,"strokeWidth":1.3,"opacity":0.9,"point":{"filled":true,"size":10,"clip":true}},
   "encoding":{"x":{"field":"e","type":"quantitative","scale":{"type":"log","domain":[1e-5,1e-3],"nice":false},"axis":{"values":[1e-5,1e-4,1e-3],"labelExpr":"datum.value<5e-5?'10⁻⁵':datum.value<5e-4?'10⁻⁴':'10⁻³'","title":"ηbase"}},
    "y":{"field":"v","type":"quantitative","scale":{"domain":[0.2,0.42],"nice":false,"zero":false},"axis":{"values":[0.2,0.3,0.4],"format":".1f","title":null}},
    "color":{"field":"s","type":"nominal","scale":{"domain":["s=0.5","s=1.0","s=2.0"],"range":["#fd9b55","#f76b4e","#e6393c"]}}}},
  {"width":175,"height":104,"title":{"text":"λ = s","anchor":"end","align":"left","frame":"group","fontSize":16,"fontWeight":"bold","offset":0,"dx":19,"dy":74},"transform":[{"filter":"datum.p=='b2vl'"}],
   "mark":{"type":"line","clip":true,"strokeWidth":1.3,"opacity":0.9,"point":{"filled":true,"size":10,"clip":true}},
   "encoding":{"x":{"field":"e","type":"quantitative","scale":{"type":"log","domain":[1e-5,1e-3],"nice":false},"axis":{"values":[1e-5,1e-4,1e-3],"labelExpr":"datum.value<5e-5?'10⁻⁵':datum.value<5e-4?'10⁻⁴':'10⁻³'","title":"ηbase"}},
    "y":{"field":"v","type":"quantitative","scale":{"domain":[2.5,5.0],"nice":false,"zero":false},"axis":{"values":[2.5,3.5,4.5],"format":".1f","title":"η = ηbase/s,","titleX":194,"titleY":44,"titleAngle":0,"titleAlign":"left","titleBaseline":"middle"}},
    "color":{"field":"s","type":"nominal","scale":{"domain":["s=0.5","s=1.0","s=2.0"],"range":["#fd9b55","#f76b4e","#e6393c"]}}}}
  ]}
 ]}
]
}
